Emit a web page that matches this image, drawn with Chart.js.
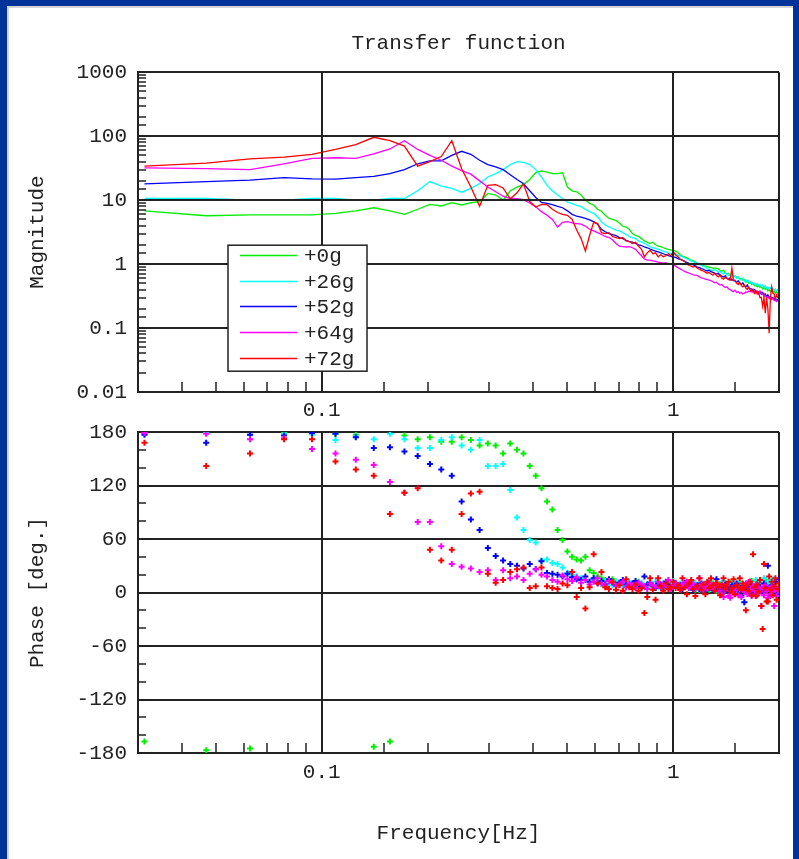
<!DOCTYPE html>
<html>
<head>
<meta charset="utf-8">
<title>Transfer function</title>
<script src="https://cdn.jsdelivr.net/npm/chart.js@4.4.1/dist/chart.umd.min.js"></script>
<style>
  body { margin: 0; background: #fff; }
  #page { position: relative; width: 799px; height: 859px; overflow: hidden; background: #fff; }
  #page canvas { position: absolute; left: 0; top: 0; }
  .frame { position: absolute; background: #003399; }
  .edge { position: absolute; background: #d4d4d4; }
</style>
</head>
<body>
<div id="page">
  <canvas id="magChart" width="799" height="859"></canvas>
  <canvas id="phaseChart" width="799" height="859"></canvas>
  <div class="frame" style="left:0;top:0;width:799px;height:6px"></div>
  <div class="frame" style="left:0;top:0;width:7px;height:859px"></div>
  <div class="frame" style="left:793px;top:0;width:6px;height:859px"></div>
  <div class="edge" style="left:7px;top:6px;width:786px;height:2px"></div>
  <div class="edge" style="left:7px;top:6px;width:2px;height:853px"></div>
</div>
<script>
// frequency bins [Hz]
const freqHz = [
  0.0313, 0.0469, 0.0625, 0.0781, 0.0938, 0.1094, 0.125, 0.1406, 0.1563, 0.1719, 0.1875, 0.2031, 0.2188, 0.2344, 0.25, 0.2656,
  0.2813, 0.2969, 0.3125, 0.3281, 0.3438, 0.3594, 0.375, 0.3906, 0.4063, 0.4219, 0.4375, 0.4531, 0.4688, 0.4844, 0.5, 0.5156,
  0.5313, 0.5469, 0.5625, 0.5781, 0.5938, 0.6094, 0.625, 0.6406, 0.6563, 0.6719, 0.6875, 0.7031, 0.7188, 0.7344, 0.75, 0.7656,
  0.7813, 0.7969, 0.8125, 0.8281, 0.8438, 0.8594, 0.875, 0.8906, 0.9063, 0.9219, 0.9375, 0.9531, 0.9688, 0.9844, 1, 1.0156,
  1.0313, 1.0469, 1.0625, 1.0781, 1.0938, 1.1094, 1.125, 1.1406, 1.1563, 1.1719, 1.1875, 1.2031, 1.2188, 1.2344, 1.25, 1.2656,
  1.2813, 1.2969, 1.3125, 1.3281, 1.3438, 1.3594, 1.375, 1.3906, 1.4063, 1.4219, 1.4375, 1.4531, 1.4688, 1.4844, 1.5, 1.5156,
  1.5313, 1.5469, 1.5625, 1.5781, 1.5938, 1.6094, 1.625, 1.6406, 1.6563, 1.6719, 1.6875, 1.7031, 1.7188, 1.7344, 1.75, 1.7656,
  1.7813, 1.7969, 1.8125, 1.8281, 1.8438, 1.8594, 1.875, 1.8906, 1.9063, 1.9219, 1.9375, 1.9531, 1.9688, 1.9844, 2
];

const seriesNames = ['+0g', '+26g', '+52g', '+64g', '+72g'];
const seriesColors = ['#00ee00', '#00ffff', '#0000ff', '#ff00ff', '#ff0000'];

const magTickLabels = [0.01, 0.1, 1, 10, 100, 1000];
const phaseTickLabels = [-180, -120, -60, 0, 60, 120, 180];
const freqTickLabels = [0.1, 1];

// magnitude
const magGreen = [
  6.8, 5.7, 5.9, 5.9, 5.9, 6.2, 6.8, 7.6, 6.8, 6.0, 7.2, 8.6, 8.1, 9.1, 8.4, 9.1,
  9.5, 12.7, 12, 10, 14, 16, 17.5, 21, 27, 28.6, 27.4, 26, 26, 26.8, 16, 14,
  13.5, 12, 10, 8.9, 8.4, 7.2, 6.7, 5.8, 5.2, 5.0, 4.8, 4.4, 3.9, 3.8, 3.5, 3.0,
  2.8, 2.7, 2.5, 2.3, 2.2, 2.1, 2.2, 2.0, 1.9, 1.87, 1.8, 1.75, 1.7, 1.66, 1.65, 1.6,
  1.5, 1.4, 1.32, 1.3, 1.25, 1.2, 1.15, 1.12, 1.08, 1.03, 1.0, 0.97, 0.95, 0.93, 0.92, 0.9,
  0.88, 0.86, 0.87, 0.86, 0.84, 0.8, 0.77, 0.8, 0.73, 0.7, 0.72, 0.66, 0.68, 0.64, 0.65, 0.62,
  0.63, 0.58, 0.6, 0.56, 0.57, 0.52, 0.55, 0.5, 0.52, 0.48, 0.5, 0.46, 0.47, 0.44, 0.46, 0.43,
  0.45, 0.41, 0.43, 0.4, 0.42, 0.38, 0.4, 0.37, 0.39, 0.36, 0.38, 0.35, 0.37, 0.34, 0.36
];
const magCyan = [
  10.6, 10.6, 10.0, 10.0, 10.6, 10.6, 10.0, 10.0, 10.6, 10.6, 14, 19.5, 16.5, 15.3, 13.3, 15.3,
  18.2, 23, 26, 30, 36, 40, 39, 36, 30, 23, 17, 14, 12, 10.5, 9.3, 8.8,
  8.3, 7.9, 7.2, 6.6, 6.2, 5.5, 4.6, 4.1, 3.8, 3.6, 3.4, 3.3, 3.1, 2.9, 2.7, 2.6,
  2.5, 2.3, 2.2, 2.1, 2.0, 1.85, 1.8, 1.76, 1.7, 1.65, 1.58, 1.55, 1.5, 1.47, 1.47, 1.42,
  1.38, 1.33, 1.3, 1.25, 1.2, 1.16, 1.12, 1.08, 1.05, 1.03, 0.98, 0.95, 0.92, 0.9, 0.85, 0.82,
  0.8, 0.79, 0.82, 0.78, 0.75, 0.77, 0.72, 0.7, 0.73, 0.68, 0.66, 0.7, 0.64, 0.62, 0.65, 0.6,
  0.63, 0.58, 0.56, 0.6, 0.54, 0.57, 0.52, 0.55, 0.5, 0.53, 0.49, 0.5, 0.47, 0.5, 0.46, 0.48,
  0.45, 0.47, 0.43, 0.46, 0.42, 0.44, 0.41, 0.43, 0.4, 0.42, 0.39, 0.41, 0.38, 0.4, 0.38
];
const magBlue = [
  18, 19.5, 20.5, 22.5, 21.5, 21.3, 22.5, 23.5, 26, 30, 37, 41, 41, 50, 58, 52,
  42, 36, 33, 30, 25, 21, 18, 14, 11, 9.2, 8.9, 8.5, 8.0, 7.6, 6.8, 6.0,
  5.6, 5.4, 5.2, 4.9, 4.6, 4.2, 3.5, 3.2, 3.0, 2.9, 2.8, 2.6, 2.5, 2.35, 2.25, 2.2,
  2.1, 2.0, 1.95, 1.85, 1.8, 1.72, 1.65, 1.6, 1.55, 1.5, 1.45, 1.4, 1.35, 1.32, 1.3, 1.27,
  1.22, 1.18, 1.15, 1.1, 1.06, 1.03, 1.0, 0.97, 0.94, 0.9, 0.88, 0.85, 0.83, 0.8, 0.78, 0.8,
  0.76, 0.74, 0.72, 0.7, 0.72, 0.67, 0.65, 0.63, 0.66, 0.6, 0.58, 0.61, 0.56, 0.57, 0.54, 0.52,
  0.55, 0.5, 0.48, 0.51, 0.46, 0.44, 0.47, 0.42, 0.41, 0.41, 0.39, 0.4, 0.37, 0.38, 0.36, 0.37,
  0.34, 0.36, 0.33, 0.34, 0.31, 0.33, 0.3, 0.31, 0.29, 0.3, 0.28, 0.29, 0.27, 0.28, 0.27
];
const magMagenta = [
  32, 31, 30, 37, 45, 46, 45, 53, 63, 85, 62, 50, 42, 34, 29, 25.5,
  20, 16, 13.5, 11.5, 10.6, 10.5, 10.2, 9.0, 7.9, 6.6, 5.8, 5.0, 3.8, 4.5, 4.6, 4.4,
  4.3, 4.2, 3.9, 3.5, 3.3, 3.1, 2.9, 2.7, 2.6, 2.4, 2.1, 1.9, 1.87, 1.85, 1.87, 1.8,
  1.7, 1.5, 1.35, 1.2, 1.15, 1.15, 1.12, 1.1, 1.07, 1.05, 1.03, 1.05, 1.0, 1.0, 0.98, 0.93,
  0.88, 0.84, 0.8, 0.77, 0.74, 0.72, 0.7, 0.68, 0.67, 0.66, 0.63, 0.61, 0.6, 0.58, 0.57, 0.56,
  0.55, 0.53, 0.51, 0.52, 0.49, 0.47, 0.48, 0.45, 0.43, 0.44, 0.41, 0.4, 0.38, 0.37, 0.39, 0.36,
  0.37, 0.35, 0.36, 0.34, 0.35, 0.37, 0.36, 0.38, 0.37, 0.39, 0.36, 0.38, 0.35, 0.37, 0.34, 0.38,
  0.36, 0.34, 0.31, 0.32, 0.3, 0.31, 0.29, 0.3, 0.28, 0.29, 0.27, 0.28, 0.26, 0.27, 0.26
];
const magRed = [
  34, 38, 44, 47, 52, 62, 74, 96, 85, 70, 34, 40, 48, 85, 31, 16,
  8, 17, 17.5, 15.5, 10.5, 13, 18, 9.5, 7.8, 8.6, 8.5, 7.2, 6.4, 6.0, 5.8, 5.0,
  3.4, 2.5, 1.6, 2.8, 4.5, 4.3, 3.1, 3.0, 3.1, 2.7, 2.6, 2.5, 2.6, 2.3, 2.25, 2.1,
  2.2, 1.9, 1.7, 1.3, 1.5, 1.65, 1.45, 1.5, 1.3, 1.4, 1.3, 1.35, 1.45, 1.35, 1.56, 1.4,
  1.3, 1.2, 1.15, 1.1, 1.0, 0.95, 0.93, 0.9, 0.92, 0.86, 0.83, 0.8, 0.78, 0.75, 0.72, 0.74,
  0.7, 0.67, 0.72, 0.66, 0.63, 0.68, 0.6, 0.58, 0.62, 0.6, 0.57, 0.56, 0.86, 0.55, 0.56, 0.5,
  0.48, 0.52, 0.46, 0.44, 0.47, 0.42, 0.4, 0.44, 0.39, 0.37, 0.4, 0.35, 0.38, 0.34, 0.36, 0.3,
  0.3, 0.22, 0.3, 0.17, 0.3, 0.2, 0.083, 0.3, 0.44, 0.35, 0.34, 0.28, 0.33, 0.3, 0.31
];

// phase [deg]
const phaseGreen = [
  -167, -177, -175, 179, 179, 178, 177, -173, -167, 176, 172, 174, 169, 169, 174, 171,
  165, 167, 165, 156, 167, 160, 156, 142, 131, 117, 102, 93, 70, 59, 46, 40,
  37, 36, 40, 25, 22, 18, 16, 14, 12, 15, 12, 10, 8, 11, 9, 7,
  10, 12, 8, 6, 9, 11, 7, 5, 9, 8, 6, 10, 7, 5, 8, 9,
  6, 4, 8, 10, 7, 5, 9, 6, 3, 7, 9, 5, 4, 8, 6, 3,
  7, 10, 5, 2, 6, 9, 4, 7, 3, 8, 5, 11, 6, 2, 7, 4,
  9, 12, 5, 3, 8, 6, 10, 4, 7, 13, 2, 5, 9, 6, 3, 11,
  7, 4, 14, 8, 2, 6, 10, 5, 9, 3, 12, 7, 4, 10, 6
];
const phaseCyan = [
  178, 179, 177, 178, 177, 171, 175, 172, 178, 172, 162, 162, 171, 174, 165, 160,
  171, 142, 142, 144, 115, 84, 70, 59, 56, 36, 37, 33, 32, 28, 22, 20,
  18, 16, 14, 12, 15, 11, 9, 13, 10, 8, 12, 9, 7, 10, 12, 8,
  6, 9, 11, 7, 5, 10, 8, 12, 6, 9, 11, 7, 5, 9, 13, 8,
  6, 10, 4, 8, 12, 7, 5, 9, 11, 6, 3, 8, 10, 5, 7, 12,
  4, 8, 6, 11, 9, 3, 7, 13, 5, 8, 10, 4, 6, 12, 9, 3,
  7, 11, 5, 8, -11, 6, 10, 4, 12, 8, 2, 7, 14, 5, 9, 3,
  11, 6, 16, 4, 8, 12, 5, 10, 3, 15, 7, 9, 13, 6, 11
];
const phaseBlue = [
  177, 168, 177, 176, 179, 178, 174, 162, 163, 158, 153, 144, 138, 131, 102, 82,
  70, 50, 41, 36, 32, 30, 27, 32, 26, 35, 22, 21, 20, 18, 21, 17,
  15, 14, 18, 12, 16, 11, 13, 9, 15, 12, 8, 11, 14, 9, 7, 10,
  13, 8, 6, 18, 9, 11, 7, 5, 10, 8, 6, 12, 9, 5, 7, 10,
  6, 8, 4, 11, 7, 5, 9, 3, 6, 8, 4, 10, 7, 2, 5, 9,
  6, 3, 8, 15, 4, 7, 2, 5, 9, 6, 1, 4, 8, 3, 6, 10,
  2, 5, -3, 7, -11, 3, 6, 0, 4, 8, 2, -2, 5, 9, 3, 6,
  1, 4, 10, 7, 3, 30, 5, -4, 8, 2, 6, 12, -2, 4, 15
];
const phaseMagenta = [
  179, 178, 172, 173, 161, 156, 149, 143, 124, 112, 79, 79, 52, 32, 29, 27,
  23, 25, 14, 25, 16, 18, 14, 21, 26, 20, 18, 14, 12, 19, 15, 13,
  17, 11, 14, 9, 12, 16, 10, 8, 13, 11, 7, 9, 12, 6, 10, 8,
  5, 11, 9, 7, 4, 10, 8, 6, 12, 5, 9, 7, 14, 4, 8, 11,
  6, 3, 9, 7, 12, 5, 8, 10, 4, 6, 16, 9, 3, 7, 5, 11,
  8, 4, 6, 10, 2, 7, -2, -5, 3, 9, -4, -6, 5, -1, 2, 8,
  -3, 4, -5, 6, 1, 10, -2, 12, 3, -4, 7, 2, 9, -3, 5, 1,
  -15, 6, -3, 8, 2, -6, 4, -2, 7, 1, -15, 3, -4, 2, 5
];
const phaseRed = [
  168, 142, 156, 172, 172, 147, 138, 131, 88, 112, 117, 48, 36, 48, 88, 111,
  113, 21, 11, 14, 23, 26, 28, 5, 7, 28, 7, 5, 4, 10, 8, 23,
  -5, 5, -18, 6, 43, 10, 23, 6, 4, 12, 3, 8, 2, 15, 6, 4,
  9, 2, 5, -23, -5, 16, 3, -8, 16, 7, 2, 10, 4, 6, 12, 5,
  8, 3, 16, 6, -2, 10, 14, 4, -4, 7, 16, 3, 9, -2, 12, 5,
  16, 8, 2, 11, 6, -3, 9, 16, 4, 7, 12, 1, 5, 15, -2, 8,
  6, 16, 3, 10, 5, -20, 8, 2, 12, -3, 43, 6, -4, 9, 1, 14,
  -15, -41, 32, 5, -10, -10, 18, 3, 12, -3, 7, 16, -8, 4, 10
];

const magSeries = [magGreen, magCyan, magBlue, magMagenta, magRed];
const phaseSeries = [phaseGreen, phaseCyan, phaseBlue, phaseMagenta, phaseRed];

const FONT = "'Liberation Mono', 'DejaVu Sans Mono', monospace";
const INK = '#222222';
const NONE = 'rgba(0,0,0,0)';
const textFont = { family: FONT, size: 21, weight: 'normal', lineHeight: 1.2 };

function pairs(ys) {
  return freqHz.map((f, i) => ({ x: f, y: ys[i] }));
}
function match(v, list) {
  return list.find(t => Math.abs(v - t) < 1e-9 * Math.max(1, Math.abs(t)));
}

function freqAxis(labelPad, axisHeight, gridZ, withTitle) {
  return {
    type: 'logarithmic',
    min: 0.03,
    max: 2,
    border: { display: true, color: INK, width: 2, z: gridZ },
    grid: {
      z: gridZ,
      lineWidth: 2,
      color: c => (match(c.tick.value, freqTickLabels) !== undefined || c.index === c.scale.ticks.length - 1) ? INK : NONE,
      tickColor: INK,
      tickWidth: 1.5,
      tickLength: -10
    },
    ticks: {
      autoSkip: false,
      maxRotation: 0,
      padding: labelPad,
      color: INK,
      font: textFont,
      callback: v => { const t = match(v, freqTickLabels); return t === undefined ? '' : String(t); }
    },
    title: withTitle
      ? { display: true, text: 'Frequency[Hz]', color: INK, font: textFont, padding: { top: 0, bottom: 13 } }
      : { display: false },
    afterFit: s => { s.height = axisHeight; }
  };
}

// legend box drawn inside the magnitude plot
const insetLegend = {
  id: 'insetLegend',
  afterDraw(chart) {
    const { ctx, chartArea } = chart;
    const left = chartArea.left + 90, top = chartArea.top + 173;
    ctx.save();
    ctx.fillStyle = '#ffffff';
    ctx.fillRect(left, top, 139, 126);
    ctx.strokeStyle = INK;
    ctx.lineWidth = 1.5;
    ctx.strokeRect(left, top, 139, 126);
    ctx.font = '21px ' + FONT;
    ctx.textBaseline = 'middle';
    chart.data.datasets.forEach((ds, i) => {
      const y = Math.round(top + 10 + i * 25.6) + 0.5;
      ctx.strokeStyle = ds.borderColor;
      ctx.lineWidth = 1.5;
      ctx.beginPath();
      ctx.moveTo(left + 12, y);
      ctx.lineTo(left + 69, y);
      ctx.stroke();
      ctx.fillStyle = INK;
      ctx.fillText(ds.label, left + 76, y + 1);
    });
    ctx.restore();
  }
};

new Chart(document.getElementById('magChart'), {
  type: 'scatter',
  data: {
    datasets: magSeries.map((ys, i) => ({
      label: seriesNames[i],
      data: pairs(ys),
      showLine: true,
      borderColor: seriesColors[i],
      backgroundColor: seriesColors[i],
      borderWidth: 1.3,
      pointRadius: 0,
      tension: 0,
      order: 5 - i
    }))
  },
  options: {
    responsive: false,
    animation: false,
    devicePixelRatio: 1,
    layout: { padding: { left: 0, right: 20, top: 0, bottom: 429 } },
    plugins: {
      legend: { display: false },
      tooltip: { enabled: false },
      title: {
        display: true,
        fullSize: false,
        text: 'Transfer function',
        color: INK,
        font: textFont,
        padding: { top: 31, bottom: 16 }
      }
    },
    scales: {
      x: freqAxis(16, 38, 1, false),
      y: {
        type: 'logarithmic',
        min: 0.01,
        max: 1000,
        border: { display: true, color: INK, width: 2, z: 1 },
        grid: {
          z: 1,
          lineWidth: 2,
          color: c => match(c.tick.value, magTickLabels) !== undefined ? INK : NONE,
          tickColor: INK,
          tickWidth: 1.5,
          tickLength: -8
        },
        ticks: {
          autoSkip: false,
          padding: 19,
          color: INK,
          font: textFont,
          callback: v => { const t = match(v, magTickLabels); return t === undefined ? '' : String(t); }
        },
        title: { display: true, text: 'Magnitude', color: INK, font: textFont, padding: { top: 25, bottom: 0 } },
        afterFit: s => { s.width = 138; }
      }
    }
  },
  plugins: [insetLegend]
});

new Chart(document.getElementById('phaseChart'), {
  type: 'scatter',
  data: {
    datasets: phaseSeries.map((ys, i) => ({
      label: seriesNames[i],
      data: pairs(ys),
      borderColor: seriesColors[i],
      backgroundColor: seriesColors[i],
      pointStyle: 'cross',
      pointRadius: 3,
      borderWidth: 2,
      order: 5 - i
    }))
  },
  options: {
    responsive: false,
    animation: false,
    devicePixelRatio: 1,
    layout: { padding: { left: 0, right: 20, top: 432, bottom: 0 } },
    plugins: {
      legend: { display: false },
      tooltip: { enabled: false }
    },
    scales: {
      x: freqAxis(17, 106, -1, true),
      y: {
        type: 'linear',
        min: -180,
        max: 180,
        border: { display: true, color: INK, width: 2 },
        grid: {
          lineWidth: 2,
          color: c => phaseTickLabels.includes(c.tick.value) ? INK : NONE,
          tickColor: INK,
          tickWidth: 1.5,
          tickLength: -8
        },
        ticks: {
          stepSize: 20,
          autoSkip: false,
          padding: 19,
          color: INK,
          font: textFont,
          callback: v => phaseTickLabels.includes(v) ? String(v) : ''
        },
        title: { display: true, text: 'Phase [deg.]', color: INK, font: textFont, padding: { top: 25, bottom: 0 } },
        afterFit: s => { s.width = 138; }
      }
    }
  }
});
</script>
</body>
</html>
